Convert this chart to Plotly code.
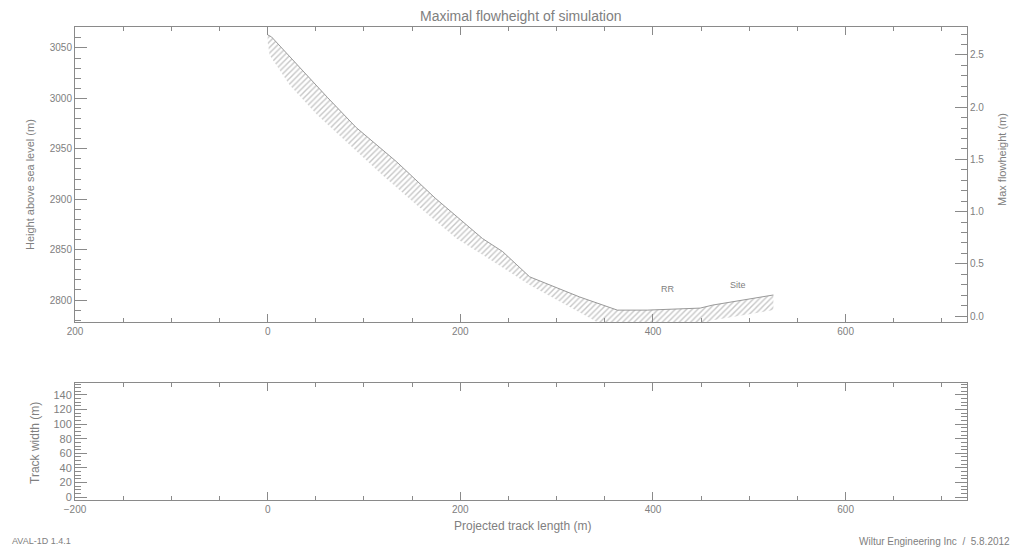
import plotly.graph_objects as go

# ---- data ----
upper_x = [0, 4, 62, 92, 134, 174, 223, 244, 272, 324, 363, 394, 449, 462, 525]
upper_elev = [3063, 3061, 3001, 2971, 2937, 2901, 2861, 2848, 2823, 2803, 2790, 2790, 2792, 2795, 2805]
lower_x = [0, 2, 23, 51, 85, 119, 155, 196, 223, 272, 306, 335, 342, 456, 462, 525]
lower_elev = [3056, 3043, 3013, 2984, 2954, 2924, 2894, 2861, 2845, 2815, 2797, 2782, 2778, 2778, 2780, 2790]
label_names = ["RR", "Site"]
label_x = [416, 488]
label_elev = [2811, 2815]

x_tick_vals = [-200, 0, 200, 400, 600]
x_tick_text_top = ["200", "0", "200", "400", "600"]
x_tick_text_bottom = ["\u2212200", "0", "200", "400", "600"]
elev_ticks = [2800, 2850, 2900, 2950, 3000, 3050]
flow_ticks = [0.0, 0.5, 1.0, 1.5, 2.0, 2.5]
width_ticks = [0, 20, 40, 60, 80, 100, 120, 140]

GREY = "#808080"
AX = "#8a8a8a"
FONT = "Liberation Sans"

fig = go.Figure()

# hatched band (closed polygon: upper edge then lower edge reversed)
poly_x = upper_x + lower_x[::-1]
poly_y = upper_elev + lower_elev[::-1]
fig.add_trace(go.Scatter(
    x=poly_x, y=poly_y, mode="lines", fill="toself",
    line=dict(width=0, color="rgba(0,0,0,0)"),
    fillcolor="rgba(255,255,255,0)",
    fillpattern=dict(shape="/", fgcolor="#8f8f8f", bgcolor="rgba(255,255,255,0)",
                     size=4, solidity=0.35),
    xaxis="x", yaxis="y", hoverinfo="skip", showlegend=False))
fig.add_trace(go.Scatter(
    x=upper_x, y=upper_elev, mode="lines",
    line=dict(width=1, color="#9a9a9a"),
    xaxis="x", yaxis="y", showlegend=False))
# right axis carrier
fig.add_trace(go.Scatter(x=[None], y=[None], xaxis="x", yaxis="y2", showlegend=False))
# bottom panel carrier
fig.add_trace(go.Scatter(x=[None], y=[None], xaxis="x2", yaxis="y3", showlegend=False))

tickfont = dict(family=FONT, size=10, color=GREY)

common_x = dict(range=[-200, 726], showgrid=False, zeroline=False,
                showline=True, linecolor=AX, linewidth=1,
                ticks="inside", ticklen=8, tickcolor=AX, mirror="ticks",
                tickvals=x_tick_vals, tickfont=tickfont,
                minor=dict(dtick=50, tick0=0, ticks="inside", ticklen=4, tickcolor=AX))

fig.update_layout(
    width=1026, height=550,
    margin=dict(l=75, r=59, t=27, b=50),
    paper_bgcolor="white", plot_bgcolor="white",
    showlegend=False,
    xaxis=dict(common_x, domain=[0, 1], anchor="y", ticktext=x_tick_text_top),
    yaxis=dict(domain=[0.3763, 1], range=[2778.2, 3070.8], anchor="x",
               showgrid=False, zeroline=False, showline=True, linecolor=AX,
               ticks="inside", ticklen=12, tickcolor=AX, tickvals=elev_ticks,
               tickfont=tickfont,
               minor=dict(dtick=10, tick0=0, ticks="inside", ticklen=6, tickcolor=AX)),
    yaxis2=dict(overlaying="y", side="right", anchor="x", range=[-0.057, 2.768],
                showgrid=False, zeroline=False, showline=True, linecolor=AX,
                ticks="inside", ticklen=12, tickcolor=AX, tickvals=flow_ticks,
                ticktext=["0.0", "0.5", "1.0", "1.5", "2.0", "2.5"],
                tickfont=tickfont,
                minor=dict(dtick=0.1, tick0=0, ticks="inside", ticklen=6, tickcolor=AX)),
    xaxis2=dict(common_x, domain=[0, 1], anchor="y3", ticktext=x_tick_text_bottom),
    yaxis3=dict(domain=[0, 0.2474], range=[-4.1, 156.5], anchor="x2",
                showgrid=False, zeroline=False, showline=True, linecolor=AX,
                mirror="ticks", ticks="inside", ticklen=12, tickcolor=AX,
                tickvals=width_ticks, tickfont=dict(family=FONT, size=11, color=GREY),
                minor=dict(dtick=5, tick0=0, ticks="inside", ticklen=6, tickcolor=AX)),
)

ann = []
for n, lx, ly in zip(label_names, label_x, label_elev):
    ann.append(dict(x=lx, y=ly, xref="x", yref="y", text=n, showarrow=False,
                    font=dict(family=FONT, size=9, color=GREY)))

# pixel positions converted into plot-area paper fractions
def mann(px, py, text, size, angle=0, xanchor="center"):
    fx = (px - 75) / (1026 - 75 - 59)
    fy = (500 - py) / (550 - 27 - 50)
    return dict(x=fx, y=fy, xref="paper", yref="paper", text=text,
                showarrow=False, textangle=angle, xanchor=xanchor, yanchor="middle",
                font=dict(family=FONT, size=size, color=GREY))

ann += [
    mann(521, 16, "Maximal flowheight of simulation", 14),
    mann(30, 185, "Height above sea level (m)", 11, -90),
    mann(1002, 160, "Max flowheight (m)", 11, -90),
    mann(35, 443, "Track width (m)", 12, -90),
    mann(522, 526, "Projected track length (m)", 12),
    mann(10, 541, "AVAL-1D 1.4.1", 9, 0, "left"),
    mann(857, 541, "Wiltur Engineering Inc  /  5.8.2012", 10, 0, "left"),
]
fig.update_layout(annotations=ann)

fig.write_html("out.html")
